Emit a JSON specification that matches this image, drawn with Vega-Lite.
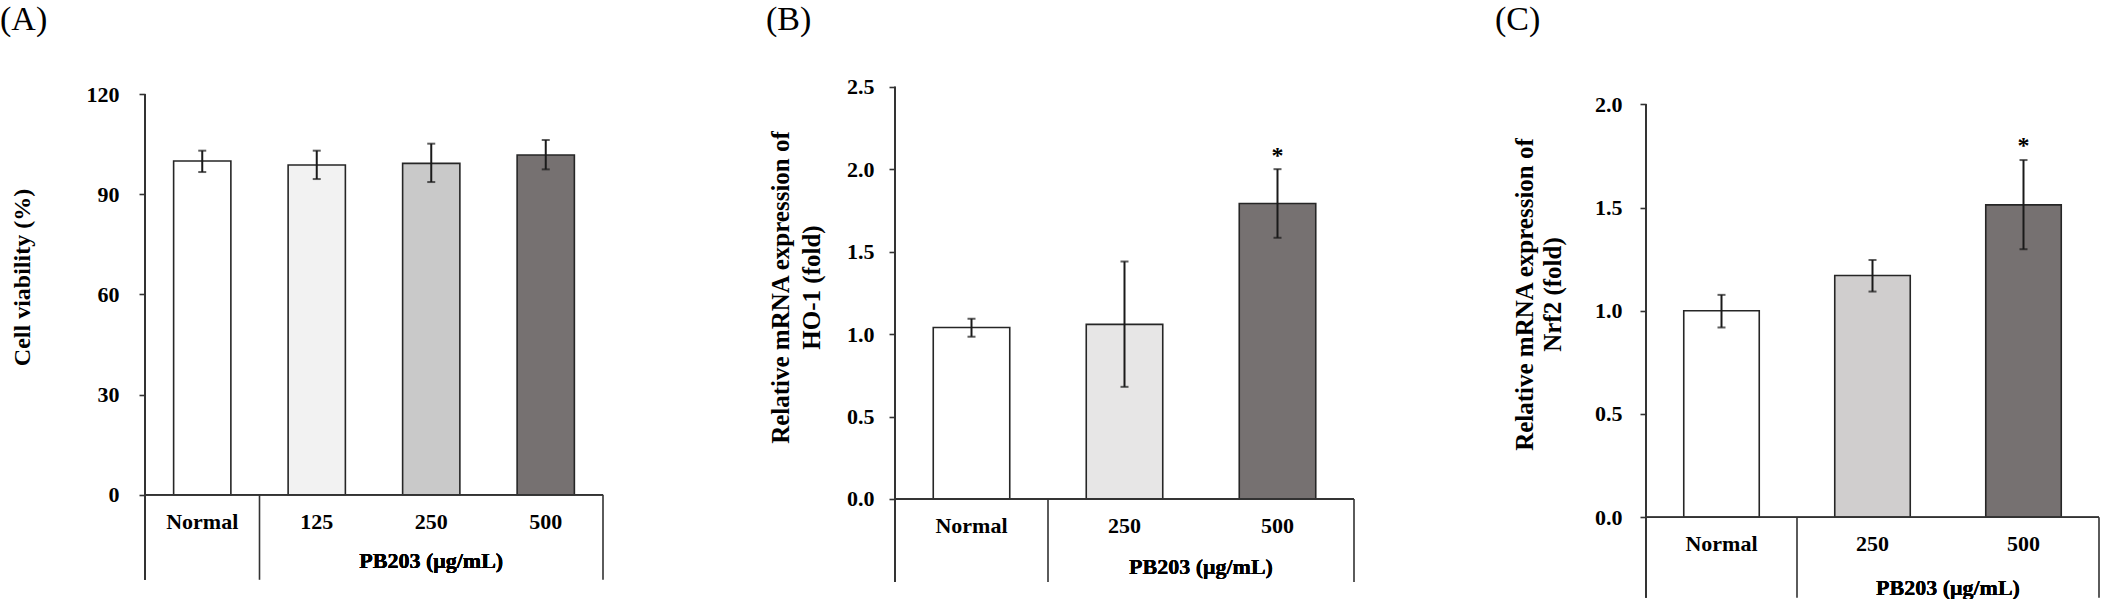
{
  "$schema": "https://vega.github.io/schema/vega-lite/v6.json",
  "background": "white",
  "padding": {"left": 0, "top": 3, "right": 0, "bottom": 0},
  "spacing": 292,
  "bounds": "flush",
  "resolve": {"scale": {"color": "independent", "x": "independent", "y": "independent"}},
  "config": {
    "view": {"stroke": null},
    "font": "Liberation Serif",
    "axis": {
      "labelFont": "Liberation Serif",
      "labelFontWeight": "bold",
      "labelFontSize": 22,
      "labelColor": "black",
      "titleFont": "Liberation Serif",
      "titleFontWeight": "bold",
      "titleColor": "black",
      "titleAngle": -90,
      "titleAlign": "center",
      "titleBaseline": "middle",
      "tickColor": "#333333",
      "tickWidth": 1.6,
      "tickSize": 6,
      "domain": false,
      "grid": false
    },
    "title": {"font": "Liberation Serif", "fontWeight": "normal", "fontSize": 34, "color": "black", "anchor": "start", "frame": "group", "offset": 37}
  },
  "datasets": {
    "A": [
      {"cat": "Normal", "mean": 100.0, "lo": 96.7, "hi": 103.1, "sig": ""},
      {"cat": "125", "mean": 98.8, "lo": 94.6, "hi": 103.1, "sig": ""},
      {"cat": "250", "mean": 99.3, "lo": 93.7, "hi": 105.2, "sig": ""},
      {"cat": "500", "mean": 101.8, "lo": 97.5, "hi": 106.3, "sig": ""}
    ],
    "B": [
      {"cat": "Normal", "mean": 1.04, "lo": 0.984, "hi": 1.093, "sig": ""},
      {"cat": "250", "mean": 1.059, "lo": 0.68, "hi": 1.44, "sig": ""},
      {"cat": "500", "mean": 1.792, "lo": 1.584, "hi": 2.0, "sig": "*"}
    ],
    "C": [
      {"cat": "Normal", "mean": 1.0, "lo": 0.919, "hi": 1.077, "sig": ""},
      {"cat": "250", "mean": 1.171, "lo": 1.093, "hi": 1.246, "sig": ""},
      {"cat": "500", "mean": 1.513, "lo": 1.298, "hi": 1.73, "sig": "*"}
    ],
    "edges": [{"cat": "Normal"}, {"cat": "500"}]
  },
  "hconcat": [
    {
      "width": 458,
      "height": 525,
      "title": {"text": "(A)", "dx": -145},
      "data": {"name": "A"},
      "layer": [
        {
          "mark": {"type": "bar", "stroke": "#262626", "strokeWidth": 1.6},
          "encoding": {
            "x": {"field": "cat", "type": "nominal", "sort": null, "scale": {"domain": ["Normal", "125", "250", "500"], "paddingInner": 0.5, "paddingOuter": 0.25}, "axis": null},
            "y": {"field": "mean", "type": "quantitative", "title": "Cell viability (%)", "scale": {"domain": [-31.26, 126.08], "nice": false, "zero": false},
              "axis": {"values": [0, 30, 60, 90, 120], "format": "d", "labelPadding": 20, "titleX": -122.5, "titleY": 203, "titleFontSize": 24, "titleFontWeight": "bold"}},
            "color": {"field": "cat", "type": "nominal", "scale": {"domain": ["Normal", "125", "250", "500"], "range": ["#ffffff", "#f2f2f2", "#c9c9c9", "#767171"]}, "legend": null}
          }
        },
        {
          "mark": {"type": "errorbar", "ticks": true, "size": 8, "thickness": 2, "color": "#1a1a1a"},
          "encoding": {
            "x": {"field": "cat", "type": "nominal"},
            "y": {"field": "lo", "type": "quantitative", "title": "Cell viability (%)",
              "axis": {"values": [0, 30, 60, 90, 120], "format": "d", "labelPadding": 20, "titleX": -122.5, "titleY": 203, "titleFontSize": 24, "titleFontWeight": "bold"}},
            "y2": {"field": "hi"}
          }
        },
        {
          "mark": {"type": "rule", "color": "#333333", "strokeWidth": 1.6},
          "encoding": {"y": {"datum": 0}}
        },
        {
          "mark": {"type": "rule", "color": "#333333", "strokeWidth": 1.6},
          "encoding": {
            "x": {"datum": "Normal", "type": "nominal", "bandPosition": -0.5},
            "y": {"datum": 120},
            "y2": {"datum": -25.5}
          }
        },
        {
          "data": {"name": "edges"},
          "mark": {"type": "rule", "color": "#333333", "strokeWidth": 1.6},
          "encoding": {
            "x": {"field": "cat", "type": "nominal", "bandPosition": 1.5},
            "y": {"datum": 0},
            "y2": {"datum": -25.5}
          }
        },
        {
          "mark": {"type": "text", "fontSize": 22, "fontWeight": "bold", "baseline": "middle", "dy": 27, "color": "black"},
          "encoding": {
            "x": {"field": "cat", "type": "nominal"},
            "y": {"datum": 0},
            "text": {"field": "cat"}
          }
        },
        {
          "mark": {"type": "text", "fontSize": 22, "fontWeight": "bold", "baseline": "middle", "dy": 66, "color": "black"},
          "encoding": {
            "x": {"datum": "250", "type": "nominal"},
            "y": {"datum": 0},
            "text": {"value": "PB203 (μg/mL)"}
          }
        }
      ]
    },
    {
      "width": 459,
      "height": 525,
      "title": {"text": "(B)", "dx": -129},
      "data": {"name": "B"},
      "layer": [
        {
          "mark": {"type": "bar", "stroke": "#262626", "strokeWidth": 1.6},
          "encoding": {
            "x": {"field": "cat", "type": "nominal", "sort": null, "scale": {"domain": ["Normal", "250", "500"], "paddingInner": 0.5, "paddingOuter": 0.25}, "axis": null},
            "y": {"field": "mean", "type": "quantitative", "title": ["Relative mRNA expression of", "HO-1 (fold)"], "scale": {"domain": [-0.6064, 2.577], "nice": false, "zero": false},
              "axis": {"values": [0, 0.5, 1, 1.5, 2, 2.5], "format": ".1f", "labelPadding": 15, "titleX": -114.5, "titleY": 213, "titleFontSize": 25, "titleLineHeight": 31}},
            "color": {"field": "cat", "type": "nominal", "scale": {"domain": ["Normal", "250", "500"], "range": ["#ffffff", "#e7e6e6", "#767171"]}, "legend": null}
          }
        },
        {
          "mark": {"type": "errorbar", "ticks": true, "size": 8, "thickness": 2, "color": "#1a1a1a"},
          "encoding": {
            "x": {"field": "cat", "type": "nominal"},
            "y": {"field": "lo", "type": "quantitative", "title": ["Relative mRNA expression of", "HO-1 (fold)"]},
            "y2": {"field": "hi"}
          }
        },
        {
          "mark": {"type": "text", "fontSize": 24, "fontWeight": "bold", "baseline": "alphabetic", "dy": -6, "color": "black"},
          "encoding": {
            "x": {"field": "cat", "type": "nominal"},
            "y": {"field": "hi", "type": "quantitative", "title": ["Relative mRNA expression of", "HO-1 (fold)"]},
            "text": {"field": "sig"}
          }
        },
        {
          "mark": {"type": "rule", "color": "#333333", "strokeWidth": 1.6},
          "encoding": {"y": {"datum": 0}}
        },
        {
          "mark": {"type": "rule", "color": "#333333", "strokeWidth": 1.6},
          "encoding": {
            "x": {"datum": "Normal", "type": "nominal", "bandPosition": -0.5},
            "y": {"datum": 2.5},
            "y2": {"datum": -0.503}
          }
        },
        {
          "data": {"name": "edges"},
          "mark": {"type": "rule", "color": "#333333", "strokeWidth": 1.6},
          "encoding": {
            "x": {"field": "cat", "type": "nominal", "bandPosition": 1.5},
            "y": {"datum": 0},
            "y2": {"datum": -0.503}
          }
        },
        {
          "mark": {"type": "text", "fontSize": 22, "fontWeight": "bold", "baseline": "middle", "dy": 27, "color": "black"},
          "encoding": {
            "x": {"field": "cat", "type": "nominal"},
            "y": {"datum": 0},
            "text": {"field": "cat"}
          }
        },
        {
          "mark": {"type": "text", "fontSize": 22, "fontWeight": "bold", "baseline": "middle", "dy": 68, "color": "black"},
          "encoding": {
            "x": {"datum": "250", "type": "nominal", "bandPosition": 1.5},
            "y": {"datum": 0},
            "text": {"value": "PB203 (μg/mL)"}
          }
        }
      ]
    },
    {
      "width": 453,
      "height": 525,
      "title": {"text": "(C)", "dx": -151},
      "data": {"name": "C"},
      "layer": [
        {
          "mark": {"type": "bar", "stroke": "#262626", "strokeWidth": 1.6},
          "encoding": {
            "x": {"field": "cat", "type": "nominal", "sort": null, "scale": {"domain": ["Normal", "250", "500"], "paddingInner": 0.5, "paddingOuter": 0.25}, "axis": null},
            "y": {"field": "mean", "type": "quantitative", "title": ["Relative mRNA expression of", "Nrf2 (fold)"], "scale": {"domain": [-0.3962, 2.1468], "nice": false, "zero": false},
              "axis": {"values": [0, 0.5, 1, 1.5, 2], "format": ".1f", "labelPadding": 18, "titleX": -122, "titleY": 220, "titleFontSize": 25, "titleLineHeight": 28}},
            "color": {"field": "cat", "type": "nominal", "scale": {"domain": ["Normal", "250", "500"], "range": ["#ffffff", "#d0cece", "#767171"]}, "legend": null}
          }
        },
        {
          "mark": {"type": "errorbar", "ticks": true, "size": 8, "thickness": 2, "color": "#1a1a1a"},
          "encoding": {
            "x": {"field": "cat", "type": "nominal"},
            "y": {"field": "lo", "type": "quantitative", "title": ["Relative mRNA expression of", "Nrf2 (fold)"]},
            "y2": {"field": "hi"}
          }
        },
        {
          "mark": {"type": "text", "fontSize": 24, "fontWeight": "bold", "baseline": "alphabetic", "dy": -7, "color": "black"},
          "encoding": {
            "x": {"field": "cat", "type": "nominal"},
            "y": {"field": "hi", "type": "quantitative", "title": ["Relative mRNA expression of", "Nrf2 (fold)"]},
            "text": {"field": "sig"}
          }
        },
        {
          "mark": {"type": "rule", "color": "#333333", "strokeWidth": 1.6},
          "encoding": {"y": {"datum": 0}}
        },
        {
          "mark": {"type": "rule", "color": "#333333", "strokeWidth": 1.6},
          "encoding": {
            "x": {"datum": "Normal", "type": "nominal", "bandPosition": -0.5},
            "y": {"datum": 2.0},
            "y2": {"datum": -0.39}
          }
        },
        {
          "data": {"name": "edges"},
          "mark": {"type": "rule", "color": "#333333", "strokeWidth": 1.6},
          "encoding": {
            "x": {"field": "cat", "type": "nominal", "bandPosition": 1.5},
            "y": {"datum": 0},
            "y2": {"datum": -0.39}
          }
        },
        {
          "mark": {"type": "text", "fontSize": 22, "fontWeight": "bold", "baseline": "middle", "dy": 27, "color": "black"},
          "encoding": {
            "x": {"field": "cat", "type": "nominal"},
            "y": {"datum": 0},
            "text": {"field": "cat"}
          }
        },
        {
          "mark": {"type": "text", "fontSize": 22, "fontWeight": "bold", "baseline": "middle", "dy": 71, "color": "black"},
          "encoding": {
            "x": {"datum": "250", "type": "nominal", "bandPosition": 1.5},
            "y": {"datum": 0},
            "text": {"value": "PB203 (μg/mL)"}
          }
        }
      ]
    }
  ]
}
